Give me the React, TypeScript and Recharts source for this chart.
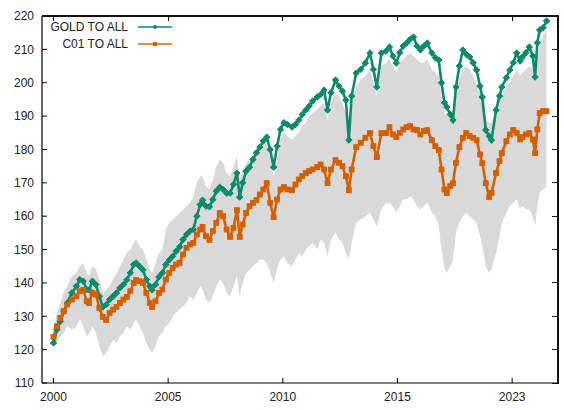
import React from 'react';
import { ComposedChart, Area, Line, XAxis, YAxis } from 'recharts';

// Time axis (decimal years)
const years = [
  2000.0, 2000.15, 2000.3, 2000.45, 2000.6, 2000.8, 2001.0, 2001.15, 2001.3, 2001.45,
  2001.55, 2001.7, 2001.85, 2002.0, 2002.15, 2002.3, 2002.45, 2002.6, 2002.75, 2002.9,
  2003.05, 2003.2, 2003.35, 2003.5, 2003.6, 2003.75, 2003.9, 2004.05, 2004.2, 2004.3,
  2004.45, 2004.6, 2004.75, 2004.9, 2005.05, 2005.2, 2005.35, 2005.5, 2005.65, 2005.8,
  2005.95, 2006.1, 2006.25, 2006.4, 2006.5, 2006.65, 2006.8, 2006.95, 2007.1, 2007.25,
  2007.4, 2007.55, 2007.7, 2007.85, 2008.0, 2008.12, 2008.25, 2008.4, 2008.55, 2008.7,
  2008.85, 2009.0, 2009.15, 2009.3, 2009.45, 2009.6, 2009.75, 2009.9, 2010.05, 2010.2,
  2010.4, 2010.55, 2010.7, 2010.85, 2011.0, 2011.15, 2011.3, 2011.5, 2011.65, 2011.8,
  2011.95, 2012.1, 2012.3, 2012.45, 2012.6, 2012.75, 2012.88, 2013.0, 2013.2, 2013.4,
  2013.6, 2013.8, 2013.95, 2014.1, 2014.3, 2014.5, 2014.65, 2014.8, 2014.95, 2015.1,
  2015.25, 2015.4, 2015.55, 2015.7, 2015.85, 2016.0, 2016.15, 2016.3, 2016.5, 2016.65,
  2016.8, 2016.92, 2017.05, 2017.15, 2017.3, 2017.42, 2017.55, 2017.7, 2017.85, 2018.0,
  2018.15, 2018.3, 2018.45, 2018.6, 2018.7, 2018.85, 2019.0, 2019.1, 2019.3, 2019.45,
  2019.55, 2019.75, 2019.9, 2020.05, 2020.2, 2020.35, 2020.45, 2020.6, 2020.75, 2020.9,
  2021.0, 2021.1, 2021.2, 2021.35, 2021.5,
];

const goldToAll = [
  122.0, 126.0, 128.5, 131.5, 134.0, 137.0, 139.0, 141.0, 140.5, 138.0,
  137.9, 140.5, 139.5, 136.0, 132.8, 133.5, 135.0, 136.0, 137.0, 138.5,
  139.5, 140.9, 143.0, 145.5, 146.0, 145.0, 143.9, 141.0, 139.0, 137.9,
  139.5, 141.8, 143.0, 145.5, 146.9, 148.0, 149.5, 150.8, 153.0, 154.5,
  155.5, 156.0, 160.0, 163.5, 164.8, 163.0, 162.8, 165.0, 167.5, 168.7,
  168.0, 166.9, 166.9, 169.5, 172.9, 165.7, 170.0, 173.5, 174.7, 177.0,
  179.0, 180.7, 182.5, 183.7, 180.0, 174.7, 181.0, 186.0, 188.0, 187.5,
  186.7, 187.5, 188.8, 190.5, 191.8, 193.0, 194.5, 195.7, 196.5, 197.8,
  191.8, 197.0, 200.8, 199.0, 197.5, 194.8, 182.8, 196.0, 202.9, 204.0,
  205.9, 208.9, 204.0, 198.7, 208.9, 209.5, 210.7, 208.0, 205.9, 209.0,
  211.0, 211.9, 213.0, 213.7, 211.0, 209.8, 211.0, 211.9, 208.9, 207.5,
  206.8, 200.0, 194.0, 192.7, 190.5, 188.8, 198.7, 205.0, 209.8, 208.5,
  207.7, 206.0, 203.8, 199.0, 195.7, 185.8, 184.0, 182.8, 191.8, 196.0,
  198.7, 201.5, 203.8, 206.0, 208.9, 206.5, 207.7, 209.0, 210.7, 208.0,
  201.7, 212.0, 215.8, 216.5, 218.5,
];

const c01ToAll = [
  123.8, 127.0, 129.5, 131.5, 133.5, 135.0, 136.0, 137.5, 137.9, 134.5,
  134.0, 137.0, 136.5, 132.5, 129.8, 128.9, 131.0, 132.0, 132.8, 134.0,
  135.0, 135.8, 137.5, 140.0, 140.9, 140.5, 140.0, 137.0, 134.0, 132.8,
  134.5, 137.0, 138.0, 141.0, 143.0, 144.5, 145.5, 146.0, 148.5, 150.5,
  151.5, 152.0, 154.5, 156.0, 156.8, 154.0, 152.9, 155.5, 158.0, 160.9,
  160.0, 156.0, 153.8, 156.5, 161.8, 153.8, 157.5, 161.0, 163.0, 164.0,
  164.8, 166.5, 168.0, 169.9, 164.0, 159.7, 165.0, 168.0, 168.7, 168.0,
  167.8, 169.5, 171.0, 172.0, 172.9, 173.5, 174.0, 174.7, 175.5, 174.0,
  169.9, 174.0, 176.8, 176.0, 175.0, 172.0, 167.8, 174.0, 180.7, 182.0,
  183.5, 184.9, 181.0, 177.7, 184.9, 184.9, 186.7, 184.5, 183.7, 185.0,
  186.0, 186.7, 187.0, 186.0, 185.8, 184.5, 185.5, 185.8, 182.8, 181.0,
  179.8, 174.0, 168.0, 166.9, 169.0, 169.9, 176.0, 180.7, 183.5, 184.9,
  184.0, 183.5, 182.8, 178.5, 175.9, 169.9, 165.7, 167.0, 172.9, 176.5,
  178.9, 182.5, 184.5, 185.8, 185.0, 183.0, 183.7, 184.5, 184.9, 183.0,
  178.9, 186.0, 190.9, 191.5, 191.5,
];

// Spread of all comparison series (grey envelope)
const bandLow = [
  121, 122, 124, 125, 127, 126, 127, 129, 127, 124,
  125, 127, 125, 121, 118, 119, 121, 123, 122, 124,
  125, 127, 126, 128, 129, 127, 125, 122, 120, 119,
  121, 124, 125, 127, 128, 130, 131, 132, 133, 134,
  136, 135, 137, 139, 138, 135, 134, 136, 139, 141,
  140, 137, 136, 139, 142, 136, 140, 143, 144, 145,
  146, 147, 147, 146, 143, 140, 144, 147, 148, 146,
  145, 147, 149, 148, 150, 151, 152, 150, 153, 152,
  148, 153, 155, 153, 152, 149, 147, 152, 158, 159,
  160, 161, 159, 157, 162, 164, 164, 163, 161, 163,
  165, 165, 166, 165, 163, 162, 163, 164, 161, 160,
  157, 150, 144, 143, 145, 147, 155, 158, 160, 161,
  160, 159, 158, 154, 151, 145, 143, 144, 149, 154,
  158, 161, 163, 164, 165, 162, 163, 162, 162, 160,
  157, 163, 167, 168, 169,
];

const bandHigh = [
  126, 131, 134, 137, 139, 142, 143, 145, 146, 143,
  142, 145, 144, 141, 137, 138, 139, 141, 143, 145,
  147, 149, 150, 152, 153, 151, 150, 147, 144, 143,
  146, 149, 150, 156, 158, 159, 160, 161, 162, 163,
  164, 166, 170, 172, 172, 169, 168, 171, 175, 177,
  176, 173, 172, 175, 178, 171, 174, 176, 177, 178,
  179, 180, 181, 182, 178, 172, 178, 183, 185, 184,
  183, 184, 185, 187, 188, 190, 191, 192, 193, 194,
  189, 194, 197, 196, 194, 191, 182, 193, 199, 201,
  202, 204, 200, 196, 205, 206, 207, 205, 203, 206,
  207, 208, 209, 208, 207, 206, 206, 207, 204, 203,
  202, 196, 191, 190, 192, 191, 196, 201, 204, 205,
  204, 202, 200, 197, 194, 189, 188, 188, 192, 195,
  197, 199, 200, 202, 204, 202, 203, 204, 205, 204,
  202, 208, 211, 214, 216,
];

const seriesNames = ['GOLD TO ALL', 'C01 TO ALL'];
const xDomain = [1999.5, 2022];
const yDomain = [110, 220];
const xTicks = [2000, 2005, 2010, 2015, 2020];
const xTickLabels = ['2000', '2005', '2010', '2015', '2023'];
const yTicks = [110, 120, 130, 140, 150, 160, 170, 180, 190, 200, 210, 220];

const rows = years.map((year, i) => ({
  year,
  gold: goldToAll[i],
  c01: c01ToAll[i],
  band: [bandLow[i], bandHigh[i]],
}));

const CHART_W = 564;
const CHART_H = 410;
const MARGIN = { top: 16, right: 6, bottom: 0, left: 0 };
const Y_AXIS_W = 42;
const X_AXIS_H = 27;
// plot box derived from the chart layout
const PLOT = {
  left: MARGIN.left + Y_AXIS_W,
  top: MARGIN.top,
  right: CHART_W - MARGIN.right,
  bottom: CHART_H - MARGIN.bottom - X_AXIS_H,
};
const sx = (v: number) => PLOT.left + ((v - xDomain[0]) / (xDomain[1] - xDomain[0])) * (PLOT.right - PLOT.left);
const sy = (v: number) => PLOT.bottom - ((v - yDomain[0]) / (yDomain[1] - yDomain[0])) * (PLOT.bottom - PLOT.top);

const TEAL = '#0b8a6c';
const ORANGE = '#d65f00';
const GREY = '#d9d9d9';
const FONT = '"Liberation Sans", Arial, sans-serif';

const tickStyle = { fontSize: 12, fill: '#222', fontFamily: FONT };

const Diamond = (props: any) => {
  const { cx, cy, index } = props;
  if (cx == null || cy == null) return <g key={`d${index}`} />;
  const r = 3.2;
  return (
    <path
      key={`d${index}`}
      d={`M${cx},${cy - r}L${cx + r},${cy}L${cx},${cy + r}L${cx - r},${cy}Z`}
      fill={TEAL}
      stroke={TEAL}
      strokeWidth={1}
    />
  );
};

const Square = (props: any) => {
  const { cx, cy, index } = props;
  if (cx == null || cy == null) return <g key={`s${index}`} />;
  const r = 2.4;
  return (
    <rect
      key={`s${index}`}
      x={cx - r}
      y={cy - r}
      width={2 * r}
      height={2 * r}
      fill={ORANGE}
      stroke={ORANGE}
      strokeWidth={1}
    />
  );
};

// Top and right border of the plot (filled strips) with mirrored inward ticks
const Frame = () => (
  <div style={{ position: 'absolute', left: 0, top: 0, width: CHART_W, height: CHART_H, zIndex: 10 }}>
    <div
      style={{
        position: 'absolute',
        left: PLOT.left,
        top: PLOT.top - 1,
        width: PLOT.right - PLOT.left + 1,
        height: 2,
        background: '#111',
      }}
    />
    <div
      style={{
        position: 'absolute',
        left: PLOT.right - 1,
        top: PLOT.top - 1,
        width: 2,
        height: PLOT.bottom - PLOT.top + 2,
        background: '#111',
      }}
    />
    {xTicks.map((t) => (
      <div
        key={`tx${t}`}
        style={{ position: 'absolute', left: sx(t) - 0.5, top: PLOT.top, width: 1, height: 5, background: '#111' }}
      />
    ))}
    {yTicks.map((t) => (
      <div
        key={`ty${t}`}
        style={{ position: 'absolute', left: PLOT.right - 6, top: sy(t) - 0.5, width: 5, height: 1, background: '#111' }}
      />
    ))}
  </div>
);

const LegendRow = ({ label, color, marker, top }: { label: string; color: string; marker: 'diamond' | 'square'; top: number }) => (
  <div style={{ position: 'absolute', left: 40, top, width: 140, height: 16, zIndex: 11 }}>
    <span
      style={{
        position: 'absolute',
        right: 52,
        top: 0,
        fontFamily: FONT,
        fontSize: 12,
        lineHeight: '16px',
        color: '#222',
        whiteSpace: 'nowrap',
      }}
    >
      {label}
    </span>
    <svg style={{ position: 'absolute', left: 97, top: 0 }} width={36} height={16}>
      <line x1={1} y1={8} x2={35} y2={8} stroke={color} strokeWidth={1.3} />
      {marker === 'diamond' ? (
        <path d="M18,5.4L20.6,8L18,10.6L15.4,8Z" fill={color} />
      ) : (
        <rect x={16} y={6} width={4} height={4} fill={color} />
      )}
    </svg>
  </div>
);

export default function App() {
  return (
    <div style={{ position: 'absolute', left: 0, top: 0, width: CHART_W, height: CHART_H, background: '#fff' }}>
      <ComposedChart width={CHART_W} height={CHART_H} data={rows} margin={MARGIN}>
        <XAxis
          dataKey="year"
          type="number"
          domain={xDomain}
          ticks={xTicks}
          tickFormatter={(v: number) => xTickLabels[xTicks.indexOf(v)] ?? String(v)}
          height={X_AXIS_H}
          tickSize={-5}
          tickMargin={14}
          axisLine={{ stroke: '#000', strokeWidth: 1.2 }}
          tickLine={{ stroke: '#000' }}
          tick={tickStyle}
          allowDataOverflow
        />
        <YAxis
          type="number"
          domain={yDomain}
          ticks={yTicks}
          width={Y_AXIS_W}
          tickSize={-5}
          tickMargin={13}
          axisLine={{ stroke: '#000', strokeWidth: 1.2 }}
          tickLine={{ stroke: '#000' }}
          tick={tickStyle}
          allowDataOverflow
        />
        <Area
          dataKey="band"
          stroke="none"
          fill={GREY}
          fillOpacity={1}
          isAnimationActive={false}
          activeDot={false}
        />
        <Line
          dataKey="gold"
          name={seriesNames[0]}
          stroke={TEAL}
          strokeWidth={2.6}
          dot={Diamond}
          activeDot={false}
          isAnimationActive={false}
        />
        <Line
          dataKey="c01"
          name={seriesNames[1]}
          stroke={ORANGE}
          strokeWidth={2.6}
          dot={Square}
          activeDot={false}
          isAnimationActive={false}
        />
      </ComposedChart>
      <Frame />
      <LegendRow label={seriesNames[0]} color={TEAL} marker="diamond" top={19} />
      <LegendRow label={seriesNames[1]} color={ORANGE} marker="square" top={36} />
    </div>
  );
}
